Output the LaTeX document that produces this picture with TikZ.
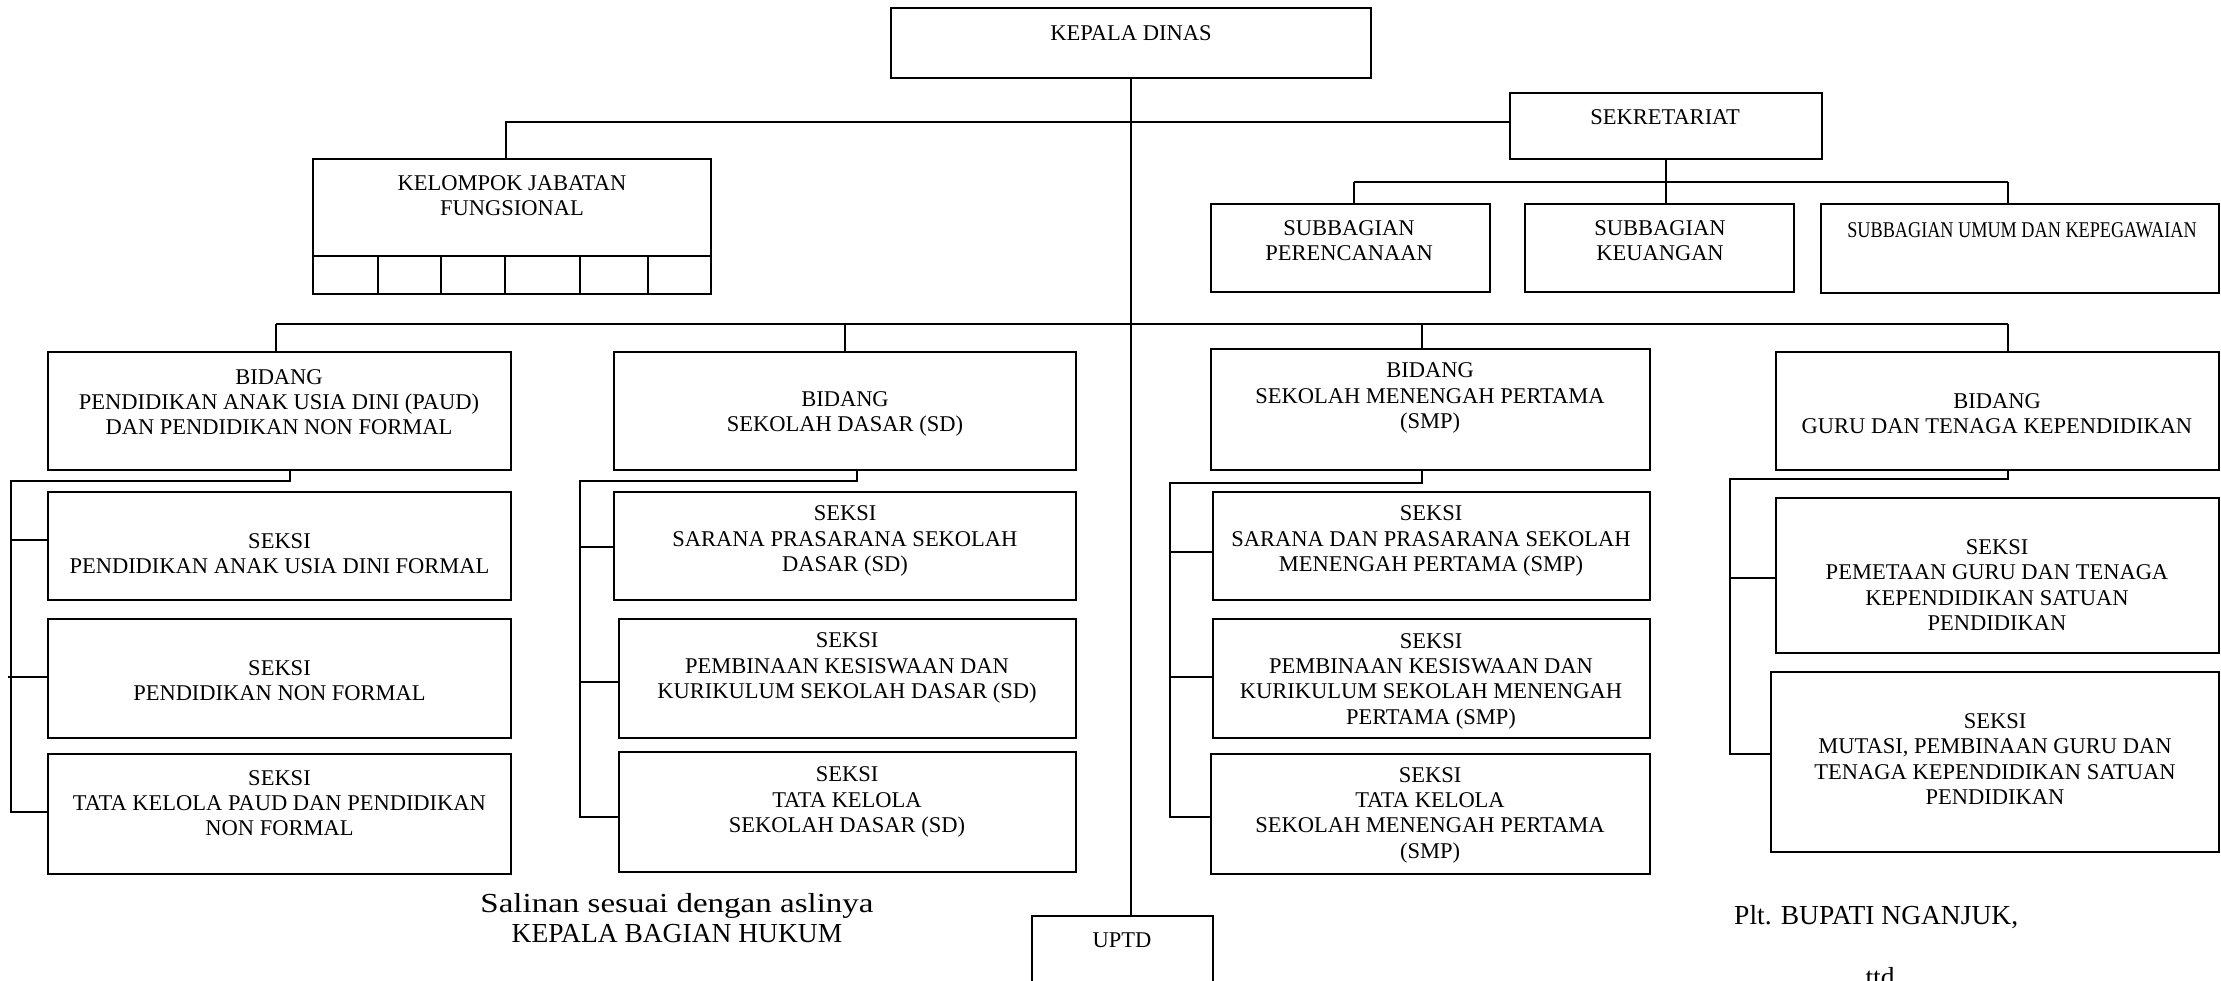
\documentclass[tikz,border=0pt]{standalone}
\usepackage{fontspec}
\setmainfont{Liberation Serif}
\usetikzlibrary{fit,calc}
\begin{document}
\begin{tikzpicture}[x=1pt,y=-1pt,
  orgbox/.style={draw, line width=1.4pt, inner sep=0pt, rectangle},
  lbl/.style={font=\fontsize{22.5}{25.3}\selectfont, align=center, inner sep=0pt},
  foot/.style={font=\fontsize{27.5}{30}\selectfont, inner sep=0pt},
  link/.style={line width=1.6pt}]
\useasboundingbox (0,0) rectangle (2221,981);
\clip (0,0) rectangle (2221,981);
\fill[white] (0,0) rectangle (2221,981);

% top level
\node[orgbox, fit={(891,8) (1371,78)}] (kd) {};
\node[orgbox, fit={(1510,93) (1822,159)}] (sek) {};
\node[orgbox, fit={(313,159) (711,294)}] (kel) {};
\foreach \i/\a/\b in {1/313/378, 2/378/441, 3/441/505, 4/505/580, 5/580/648, 6/648/711}
  \node[orgbox, fit={(\a,256) (\b,294)}] (kc\i) {};

% secretariat sub-units
\node[orgbox, fit={(1211,204) (1490,292)}] (per) {};
\node[orgbox, fit={(1525,204) (1794,292)}] (keu) {};
\node[orgbox, fit={(1821,204) (2219,293)}] (umum) {};

% divisions
\node[orgbox, fit={(48,352) (511,470)}] (paud) {};
\node[orgbox, fit={(614,352) (1076,470)}] (sd) {};
\node[orgbox, fit={(1211,349) (1650,470)}] (smp) {};
\node[orgbox, fit={(1776,352) (2219,470)}] (guru) {};

% sections
\node[orgbox, fit={(48,492) (511,600)}] (ps1) {};
\node[orgbox, fit={(48,619) (511,738)}] (ps2) {};
\node[orgbox, fit={(48,754) (511,874)}] (ps3) {};
\node[orgbox, fit={(614,492) (1076,600)}] (ds1) {};
\node[orgbox, fit={(619,619) (1076,738)}] (ds2) {};
\node[orgbox, fit={(619,752) (1076,872)}] (ds3) {};
\node[orgbox, fit={(1213,492) (1650,600)}] (ms1) {};
\node[orgbox, fit={(1213,619) (1650,738)}] (ms2) {};
\node[orgbox, fit={(1211,754) (1650,874)}] (ms3) {};
\node[orgbox, fit={(1776,498) (2219,653)}] (gs1) {};
\node[orgbox, fit={(1771,672) (2219,852)}] (gs2) {};
\node[orgbox, fit={(1032,916) (1213,1010)}] (uptd) {};

% labels
\node[lbl] (kd-t) at (1131,33) {KEPALA DINAS};
\node[lbl] (sek-t) at (1665,117) {SEKRETARIAT};
\node[lbl] (kel-t) at (512,196) {KELOMPOK JABATAN\\FUNGSIONAL};
\node[lbl] (per-t) at (1349,241) {SUBBAGIAN\\PERENCANAAN};
\node[lbl] (keu-t) at (1660,241) {SUBBAGIAN\\KEUANGAN};
\node[lbl] (umum-t) at (2022,230) {\scalebox{0.81}[1]{SUBBAGIAN UMUM DAN KEPEGAWAIAN}};
\node[lbl] (paud-t) at (279,402) {BIDANG\\PENDIDIKAN ANAK USIA DINI (PAUD)\\DAN PENDIDIKAN NON FORMAL};
\node[lbl] (sd-t) at (845,414) {BIDANG\\SEKOLAH DASAR (SD)};
\node[lbl] (smp-t) at (1430,398) {BIDANG\\SEKOLAH MENENGAH PERTAMA\\(SMP)};
\node[lbl] (guru-t) at (1997,414) {BIDANG\\GURU DAN TENAGA KEPENDIDIKAN};
\node[lbl] (ps1-t) at (279.5,553.5) {SEKSI\\PENDIDIKAN ANAK USIA DINI FORMAL};
\node[lbl] (ps2-t) at (279.5,680.5) {SEKSI\\PENDIDIKAN NON FORMAL};
\node[lbl] (ps3-t) at (279.5,803) {SEKSI\\TATA KELOLA PAUD DAN PENDIDIKAN\\NON FORMAL};
\node[lbl] (ds1-t) at (845,541) {SEKSI\\SARANA PRASARANA SEKOLAH\\DASAR (SD)};
\node[lbl] (ds2-t) at (847,668) {SEKSI\\PEMBINAAN KESISWAAN DAN\\KURIKULUM SEKOLAH DASAR (SD)};
\node[lbl] (ds3-t) at (847,802) {SEKSI\\TATA KELOLA\\SEKOLAH DASAR (SD)};
\node[lbl] (ms1-t) at (1431,541) {SEKSI\\SARANA DAN PRASARANA SEKOLAH\\MENENGAH PERTAMA (SMP)};
\node[lbl] (ms2-t) at (1431,681) {SEKSI\\PEMBINAAN KESISWAAN DAN\\KURIKULUM SEKOLAH MENENGAH\\PERTAMA (SMP)};
\node[lbl] (ms3-t) at (1430,815) {SEKSI\\TATA KELOLA\\SEKOLAH MENENGAH PERTAMA\\(SMP)};
\node[lbl] (gs1-t) at (1997,585) {SEKSI\\PEMETAAN GURU DAN TENAGA\\KEPENDIDIKAN SATUAN\\PENDIDIKAN};
\node[lbl] (gs2-t) at (1995,759) {SEKSI\\MUTASI, PEMBINAAN GURU DAN\\TENAGA KEPENDIDIKAN SATUAN\\PENDIDIKAN};
\node[lbl] (uptd-t) at (1122,940) {UPTD};

% branch entry points on the left side of each section box
\coordinate (ps1-in) at ([yshift=6pt]ps1.west);
\coordinate (ps2-in) at ([yshift=1.5pt]ps2.west);
\coordinate (ps3-in) at ([yshift=2pt]ps3.west);
\coordinate (ds1-in) at ([yshift=-1pt]ds1.west);
\coordinate (ds2-in) at ([yshift=-3.5pt]ds2.west);
\coordinate (ds3-in) at ([yshift=-5pt]ds3.west);
\coordinate (ms1-in) at ([yshift=-6pt]ms1.west);
\coordinate (ms2-in) at ([yshift=1.5pt]ms2.west);
\coordinate (ms3-in) at ([yshift=-3pt]ms3.west);
\coordinate (gs1-in) at ([yshift=-2.5pt]gs1.west);
\coordinate (gs2-in) at ([yshift=8pt]gs2.west);

% connectors: head office
\draw[link] (kd.south) -- (kd.south |- uptd.north);
\draw[link] ([yshift=4pt]sek.west) -| (kc3.north east |- kel.north);

% secretariat branch
\coordinate (sb-w) at (1354,182);
\coordinate (sb-e) at (2008,182);
\draw[link] (sek.south) -- (sek.south |- keu.north);
\draw[link] (sb-w) -- (sb-e);
\draw[link] (sb-w) -- (sb-w |- per.north);
\draw[link] (sb-e) -- (sb-e |- umum.north);

% division bus
\coordinate (bus-w) at (276,324);
\coordinate (bus-e) at (2008,324);
\draw[link] (bus-w) -- (bus-e);
\draw[link] (bus-w) -- (bus-w |- paud.north);
\draw[link] (sd.north |- bus-w) -- (sd.north);
\draw[link] ([xshift=-8.5pt]smp.north |- bus-w) -- ([xshift=-8.5pt]smp.north);
\draw[link] (bus-e) -- (bus-e |- guru.north);

% PAUD sections
\coordinate (r1) at (11,481);
\draw[link] ([xshift=10.5pt]paud.south) |- (r1) |- (ps3-in);
\draw[link] (r1 |- ps1-in) -- (ps1-in);
\draw[link] ([xshift=-3pt]r1 |- ps2-in) -- (ps2-in);

% SD sections
\coordinate (r2) at (580,481);
\draw[link] ([xshift=12pt]sd.south) |- (r2) |- (ds3-in);
\draw[link] (r2 |- ds1-in) -- (ds1-in);
\draw[link] (r2 |- ds2-in) -- (ds2-in);

% SMP sections
\coordinate (r3) at (1170,483);
\draw[link] ([xshift=-8.5pt]smp.south) |- (r3) |- (ms3-in);
\draw[link] (r3 |- ms1-in) -- (ms1-in);
\draw[link] (r3 |- ms2-in) -- (ms2-in);

% GTK sections
\coordinate (r4) at (1730,479);
\draw[link] ([xshift=10.5pt]guru.south) |- (r4) |- (gs2-in);
\draw[link] (r4 |- gs1-in) -- (gs1-in);

% closing texts
\node[foot, anchor=base] (sal1) at (677,912) {\scalebox{1.2}[1]{Salinan sesuai dengan aslinya}};
\node[foot, anchor=base] (sal2) at (677,942) {KEPALA BAGIAN HUKUM};
\node[foot, anchor=base west] (plt) at (1734,924) {Plt. BUPATI NGANJUK,};
\node[foot, anchor=base] (ttd) at (1880,986) {ttd};
\end{tikzpicture}
\end{document}
